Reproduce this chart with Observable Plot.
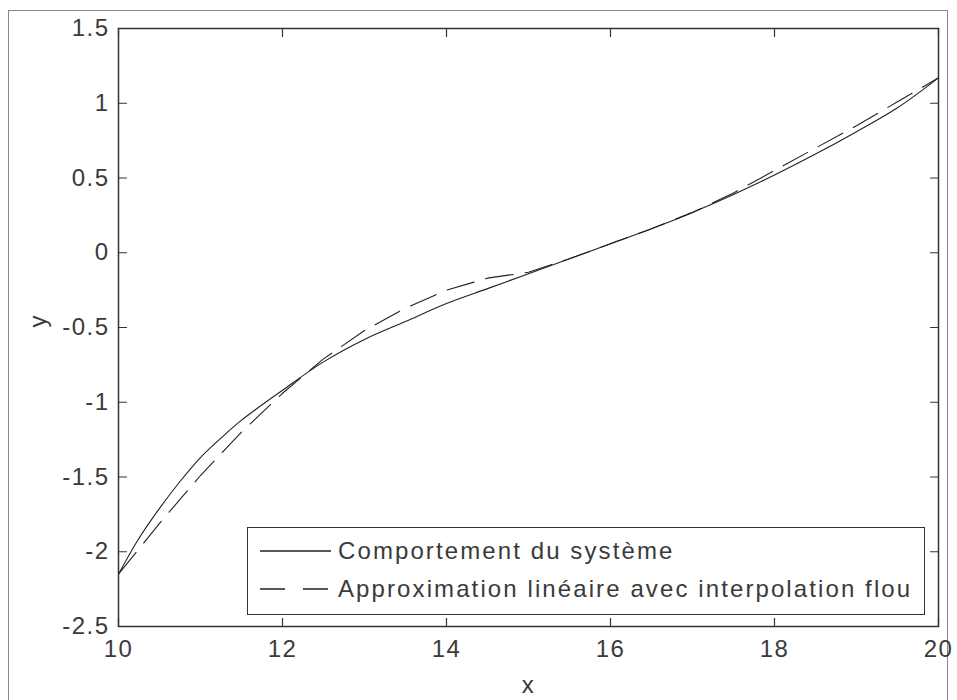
<!DOCTYPE html>
<html><head><meta charset="utf-8">
<script src="https://cdn.jsdelivr.net/npm/d3@7"></script>
<script src="https://cdn.jsdelivr.net/npm/@observablehq/plot@0.6"></script>
<style>
html,body{margin:0;padding:0;background:#fff;}
#wrap{position:relative;width:957px;height:700px;overflow:hidden;font-family:"Liberation Sans",Arial,sans-serif;}
#outer{position:absolute;left:8px;top:10px;width:940px;height:720px;border:1.5px solid #888;box-sizing:border-box;}
#chart{position:absolute;left:0;top:0;}
#legend{position:absolute;left:247px;top:527px;width:678px;height:88px;background:#fff;border:1.5px solid #333;box-sizing:border-box;}
</style></head>
<body>
<div id="wrap"><div id="outer"></div><div id="chart"></div><div id="legend"></div></div>
<script>
const xTicks = [10, 12, 14, 16, 18, 20];
const yTicks = [-2.5, -2, -1.5, -1, -0.5, 0, 0.5, 1, 1.5];
const seriesNames = ["Comportement du système", "Approximation linéaire avec interpolation flou"];
const xSys = [10, 10.25, 10.5, 10.75, 11, 11.25, 11.5, 12, 12.5, 13, 13.5, 14, 14.5, 15, 15.5, 16, 16.5, 17, 17.5, 18, 18.5, 19, 19.5, 20];
const ySys = [-2.15, -1.91, -1.71, -1.53, -1.37, -1.24, -1.12, -0.92, -0.73, -0.58, -0.46, -0.34, -0.24, -0.14, -0.04, 0.06, 0.16, 0.27, 0.39, 0.52, 0.66, 0.81, 0.97, 1.17];
const xApx = [10, 10.5, 11, 11.5, 12, 12.5, 13, 13.5, 14, 14.5, 15, 15.5, 16, 16.5, 17, 17.5, 18, 18.5, 19, 19.5, 20];
const yApx = [-2.15, -1.81, -1.49, -1.20, -0.94, -0.71, -0.52, -0.37, -0.25, -0.17, -0.13, -0.04, 0.06, 0.16, 0.27, 0.40, 0.55, 0.70, 0.85, 1.01, 1.17];

const sysData = xSys.map((x, i) => ({x, y: ySys[i]}));
const apxData = xApx.map((x, i) => ({x, y: yApx[i]}));
const dash = "28,12";
const ink = "#222";
const txt = "#3a3a3a";
const tickShape = {draw(context, l) { context.moveTo(0, 0); context.lineTo(0, -l); }};
const tk = {length: 8, anchor: "start", shape: tickShape, stroke: "#333", strokeWidth: 1.2};

const chart = Plot.plot({
  width: 957, height: 700,
  marginLeft: 118, marginRight: 19, marginTop: 28, marginBottom: 74,
  x: {domain: [10, 20]},
  y: {domain: [-2.5, 1.5]},
  style: {fontFamily: "'Liberation Sans', Arial, sans-serif", fontSize: "24px", color: txt, background: "transparent", letterSpacing: "1.5px"},
  marks: [
    Plot.axisX(xTicks, {tickSize: 0, tickPadding: 13, tickFormat: d => String(d), label: null}),
    Plot.axisY(yTicks, {tickSize: 0, tickPadding: 9, tickFormat: d => String(d), label: null}),
    Plot.vector(xTicks, {x: d => d, frameAnchor: "bottom", rotate: 0, ...tk}),
    Plot.vector(xTicks, {x: d => d, frameAnchor: "top", rotate: 180, ...tk}),
    Plot.vector(yTicks, {y: d => d, frameAnchor: "left", rotate: 90, ...tk}),
    Plot.vector(yTicks, {y: d => d, frameAnchor: "right", rotate: -90, ...tk}),
    Plot.line(sysData, {x: "x", y: "y", stroke: ink, strokeWidth: 1.1, curve: "catmull-rom"}),
    Plot.line(apxData, {x: "x", y: "y", stroke: ink, strokeWidth: 1.1, strokeDasharray: dash}),
    Plot.frame({stroke: "#333", strokeWidth: 1.5}),
    Plot.text(["x"], {frameAnchor: "bottom", dy: 66, fill: txt, fontSize: 24}),
    Plot.text(["y"], {frameAnchor: "left", dx: -80, rotate: -90, fill: txt, fontSize: 24})
  ]
});
document.getElementById("chart").appendChild(chart);

// legend
const lg = d3.select("#legend").append("svg").attr("width", 675).attr("height", 85)
  .style("font-family", "'Liberation Sans', Arial, sans-serif");
const styles = [null, "25,18"];
seriesNames.forEach((name, i) => {
  const cy = 23 + i * 38;
  lg.append("line").attr("x1", 12).attr("x2", 83).attr("y1", cy).attr("y2", cy)
    .attr("stroke", ink).attr("stroke-width", 1.3).attr("stroke-dasharray", styles[i]);
  lg.append("text").attr("x", 90).attr("y", cy).attr("dy", "0.35em")
    .attr("font-size", 24).attr("letter-spacing", "2.1px").attr("fill", txt).text(name);
});
</script>
</body></html>
